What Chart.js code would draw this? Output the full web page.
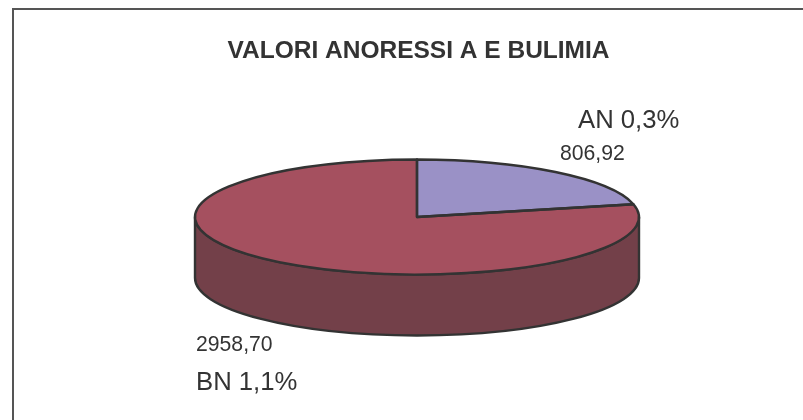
<!DOCTYPE html>
<html>
<head>
<meta charset="utf-8">
<style>
	html, body { margin: 0; padding: 0; background: #fff; }
	#wrap { width: 803px; height: 420px; }
</style>
<script src="https://cdn.jsdelivr.net/npm/chart.js@4"></script>
</head>
<body>
<div id="wrap"><canvas id="chartPie" width="803" height="420"></canvas></div>
<script>
var chartTitle = 'VALORI ANORESSI A E BULIMIA';
var categories = ['AN 0,3%', 'BN 1,1%'];
var values = [806.92, 2958.70];
var topColors = ['#9A91C6', '#A5505F'];
var sideColors = ['#5F5A80', '#734049'];

// look of the tilted pie
var INK = '#333333';
var RADIUS = 222;
var TILT = 57.5 / 222;
var DEPTH = 61;
var PIE_Y = 217;

function formatValue(v) {
	return v.toFixed(2).replace('.', ',');
}

// squash the library's arcs into an ellipse
var tiltPlugin = {
	id: 'tilt',
	beforeDatasetsDraw: function(chart) {
		var ctx = chart.ctx;
		var arcs = chart.getDatasetMeta(0).data;
		var cx = arcs[0].x, cy = arcs[0].y;

		// side wall first, only the front half can be seen
		ctx.save();
		ctx.lineWidth = 2.4;
		ctx.strokeStyle = INK;
		ctx.lineJoin = 'round';
		arcs.forEach(function(arc, i) {
			var offsets = [0, Math.PI * 2];
			offsets.forEach(function(off) {
				var a = Math.max(arc.startAngle + off, 0);
				var b = Math.min(arc.endAngle + off, Math.PI);
				if (b <= a) return;
				ctx.beginPath();
				ctx.ellipse(cx, PIE_Y, RADIUS, RADIUS * TILT, 0, a, b);
				ctx.ellipse(cx, PIE_Y + DEPTH, RADIUS, RADIUS * TILT, 0, b, a, true);
				ctx.closePath();
				ctx.fillStyle = sideColors[i];
				ctx.fill();
				ctx.stroke();
			});
		});
		ctx.restore();

		ctx.save();
		ctx.translate(cx, PIE_Y);
		ctx.scale(1, TILT);
		ctx.translate(-cx, -cy);
	},
	afterDatasetsDraw: function(chart) {
		var ctx = chart.ctx;
		ctx.restore();

		// outline drawn unscaled so that the line keeps its width
		var arcs = chart.getDatasetMeta(0).data;
		ctx.save();
		ctx.lineWidth = 2.4;
		ctx.strokeStyle = INK;
		ctx.lineJoin = 'round';
		arcs.forEach(function(arc) {
			ctx.beginPath();
			ctx.moveTo(arc.x, PIE_Y);
			ctx.ellipse(arc.x, PIE_Y, RADIUS, RADIUS * TILT, 0, arc.startAngle, arc.endAngle);
			ctx.closePath();
			ctx.stroke();
		});
		ctx.restore();
	}
};

// frame, title and slice labels
var textPlugin = {
	id: 'texts',
	afterDraw: function(chart) {
		var ctx = chart.ctx;
		ctx.save();
		ctx.strokeStyle = '#555555';
		ctx.lineWidth = 2;
		ctx.beginPath();
		ctx.moveTo(13, 420);
		ctx.lineTo(13, 9);
		ctx.lineTo(803, 9);
		ctx.stroke();

		ctx.fillStyle = INK;
		ctx.textBaseline = 'alphabetic';
		ctx.font = 'bold 24.5px "Liberation Sans", Arial, sans-serif';
		ctx.textAlign = 'center';
		ctx.fillText(chartTitle, 418.5, 57.5);

		ctx.textAlign = 'left';
		ctx.font = '25.7px "Liberation Sans", Arial, sans-serif';
		ctx.fillText(categories[0], 578, 128);
		ctx.fillText(categories[1], 196, 390);
		ctx.font = '21.2px "Liberation Sans", Arial, sans-serif';
		ctx.fillText(formatValue(values[0]), 560, 160);
		ctx.fillText(formatValue(values[1]), 196, 350.5);
		ctx.restore();
	}
};

new Chart(document.getElementById('chartPie'), {
	type: 'pie',
	data: {
		labels: categories,
		datasets: [{
			data: values,
			backgroundColor: topColors,
			borderWidth: 0,
			radius: RADIUS
		}]
	},
	options: {
		responsive: false,
		animation: false,
		events: [],
		layout: { padding: { left: 31 } },
		plugins: {
			legend: { display: false },
			tooltip: { enabled: false }
		}
	},
	plugins: [tiltPlugin, textPlugin]
});
</script>
</body>
</html>
